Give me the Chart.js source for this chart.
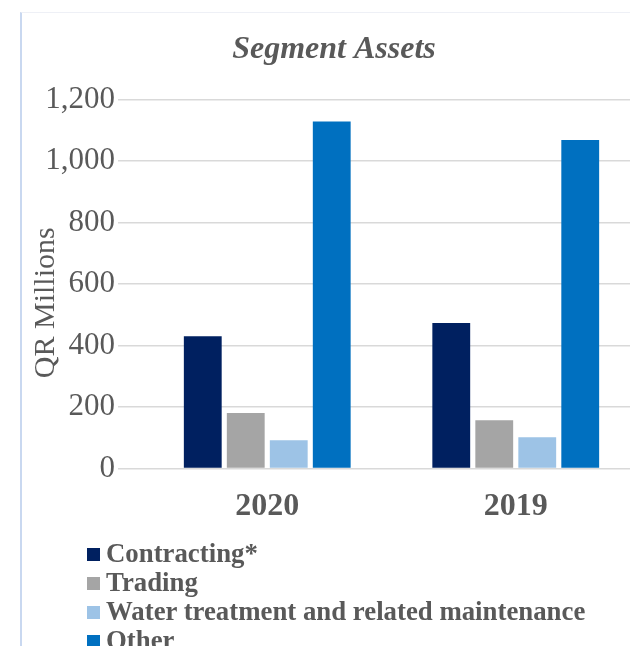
<!DOCTYPE html>
<html>
<head>
<meta charset="utf-8">
<script src="https://cdn.jsdelivr.net/npm/chart.js@4.4.1/dist/chart.umd.min.js"></script>
<style>
    html, body { margin: 0; padding: 0; background: #fff; overflow: hidden; }
    body { width: 630px; height: 646px; position: relative; font-family: "Liberation Serif", "Times New Roman", serif; }
    #frame { position: absolute; left: 20px; top: 12px; width: 640px; height: 660px;
             border-left: 2px solid #c9d8f0; border-top: 1px solid #eef0f6; }
    #wrap { position: absolute; left: 0; top: 0; width: 645px; height: 545px; }
    #legend { position: absolute; left: 87px; top: 539px; margin: 0; padding: 0; list-style: none; }
    #legend li { height: 29px; line-height: 29px; font-size: 26.8px; font-weight: bold; color: #595959; white-space: nowrap; }
    #legend span { display: inline-block; width: 13px; height: 13px; margin-right: 6px; vertical-align: 1px; }
</style>
</head>
<body>
<div id="frame"></div>
<div id="wrap"><canvas id="grafico"></canvas></div>
<ul id="legend"></ul>
<script>
// dados (QR milhões)
const anos = ["2020", "2019"];
const segmentos = ["Contracting*", "Trading", "Water treatment and related maintenance", "Other"];
const contracting = [430, 473];
const trading = [181, 157];
const waterTreatment = [92, 102];
const other = [1128, 1068];
const yTicks = [0, 200, 400, 600, 800, 1000, 1200];

const cores = ["#002060", "#A5A5A5", "#9DC3E6", "#0070C0"];
const serie = [contracting, trading, waterTreatment, other];
const textColor = "#595959";
const gridColor = "#D9D9D9";
const fonte = "'Liberation Serif', 'Times New Roman', serif";

const ctx = document.getElementById("grafico").getContext("2d");
const grafico = new Chart(ctx, {
    type: "bar",
    data: {
        labels: anos,
        datasets: segmentos.map((s, i) => ({
            label: s,
            data: serie[i],
            backgroundColor: cores[i],
            borderWidth: 0,
            categoryPercentage: 0.692,
            barPercentage: 0.88
        }))
    },
    options: {
        responsive: true,
        maintainAspectRatio: false,
        animation: false,
        layout: { padding: { left: 28, right: 5, top: 0, bottom: 8 } },
        plugins: {
            legend: { display: false },
            tooltip: { enabled: false },
            title: {
                display: true,
                text: "Segment Assets",
                color: textColor,
                font: { family: fonte, size: 32, weight: "bold", style: "italic" },
                padding: { top: 31, bottom: 30 }
            }
        },
        scales: {
            x: {
                grid: { display: false },
                border: { display: false },
                ticks: {
                    color: textColor,
                    padding: 11,
                    font: { family: fonte, size: 32, weight: "bold" }
                }
            },
            y: {
                min: 0,
                max: 1200,
                afterBuildTicks: s => { s.ticks = yTicks.map(v => ({ value: v })); },
                afterFit: s => { s.width = 115; },
                border: { display: false },
                grid: { color: gridColor, lineWidth: 1.5, tickLength: 25, tickColor: gridColor },
                ticks: {
                    color: textColor,
                    padding: 3,
                    font: { family: fonte, size: 31 },
                    callback: v => v.toLocaleString("en-US")
                },
                title: {
                    display: true,
                    // espaços no fim deslocam o título para baixo, como no original
                    text: "QR Millions     ",
                    color: textColor,
                    font: { family: fonte, size: 30 },
                    padding: { top: 0, bottom: 0 }
                }
            }
        }
    }
});

// legenda em lista vertical
const legenda = document.getElementById("legend");
grafico.data.datasets.forEach(d => {
    const li = document.createElement("li");
    const sq = document.createElement("span");
    sq.style.background = d.backgroundColor;
    li.appendChild(sq);
    li.appendChild(document.createTextNode(d.label));
    legenda.appendChild(li);
});
</script>
</body>
</html>
